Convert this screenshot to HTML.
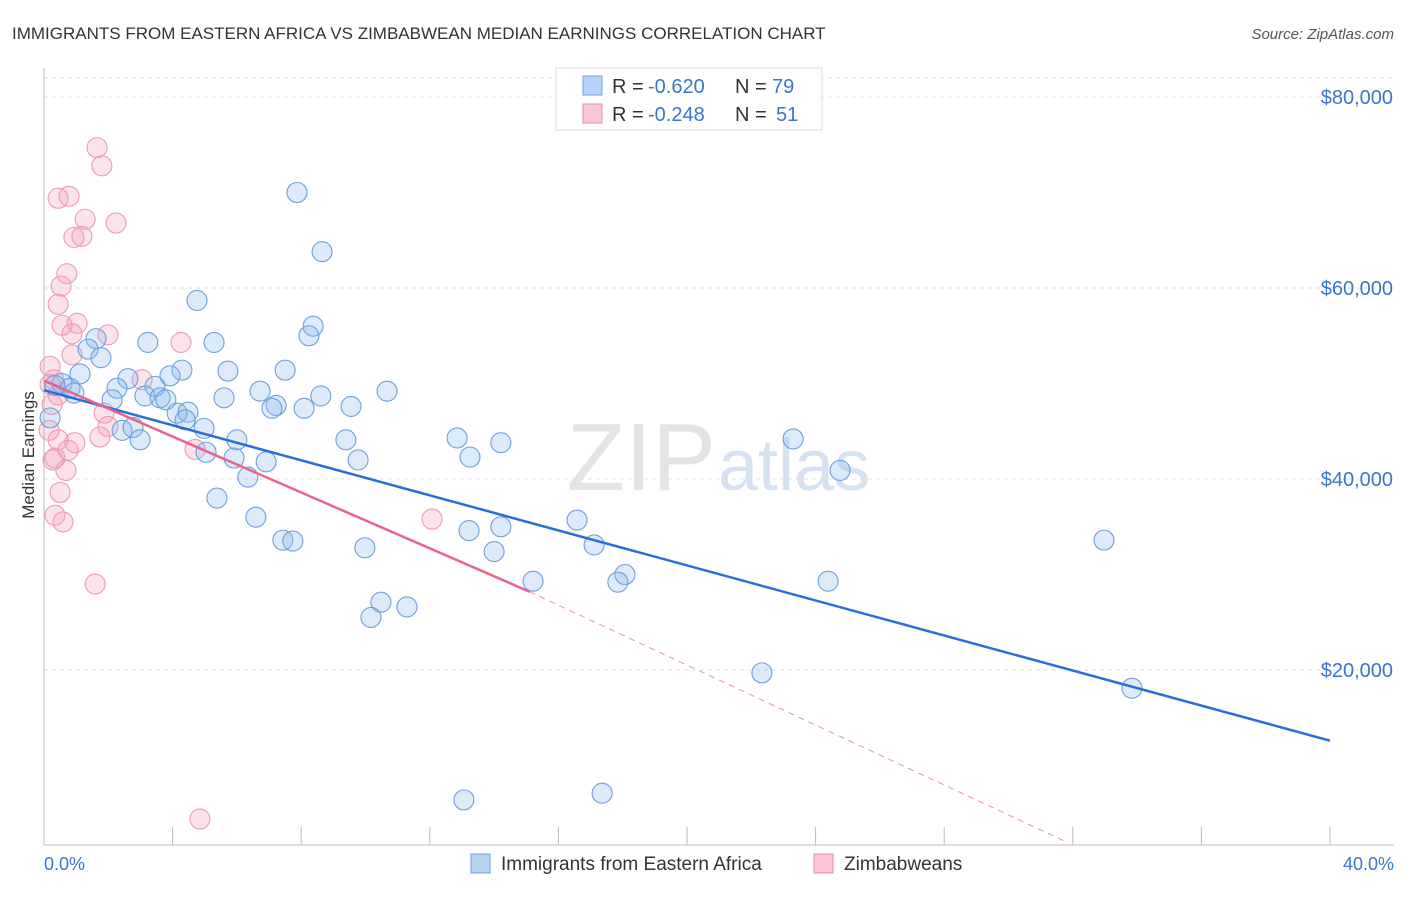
<!DOCTYPE html>
<html><head><meta charset="utf-8"><style>
body{margin:0;background:#fff;font-family:"Liberation Sans",sans-serif;}
svg text{font-family:"Liberation Sans",sans-serif;}
</style></head><body>
<svg id="chart" width="1406" height="892" viewBox="0 0 1406 892" xmlns="http://www.w3.org/2000/svg">
<text x="12" y="39" font-size="17" fill="#333">IMMIGRANTS FROM EASTERN AFRICA VS ZIMBABWEAN MEDIAN EARNINGS CORRELATION CHART</text>
<text x="1394" y="39" font-size="15" fill="#555" text-anchor="end" font-style="italic">Source: ZipAtlas.com</text>
<g id="grid"></g>
<text x="716" y="490" font-size="96" fill="#e4e4e4" text-anchor="end" font-family="Liberation Serif">ZIP</text>
<text x="718" y="490" font-size="72" fill="#d6e2f2">atlas</text>
<g id="points"></g>
<g id="lines"></g>
<text transform="translate(34,455) rotate(-90)" font-size="17" fill="#333" text-anchor="middle">Median Earnings</text>
<text x="44" y="870" font-size="18" fill="#3a75d0">0.0%</text>
<text x="1394" y="870" font-size="18" fill="#3a75d0" text-anchor="end">40.0%</text>
<g>
<rect x="556" y="68" width="266" height="62" fill="#fff" stroke="#ddd"/>
<rect x="583" y="76" width="19" height="19" fill="#b9d3f5" stroke="#6f9fe0"/>
<rect x="583" y="104" width="19" height="19" fill="#f9c6d6" stroke="#e98aaa"/>
<text x="612" y="93" font-size="20" fill="#333">R =</text>
<text x="648" y="93" font-size="20" fill="#3a75d0">-0.620</text>
<text x="735" y="93" font-size="20" fill="#333">N =</text>
<text x="772" y="93" font-size="20" fill="#3a75d0">79</text>
<text x="612" y="121" font-size="20" fill="#333">R =</text>
<text x="648" y="121" font-size="20" fill="#3a75d0">-0.248</text>
<text x="735" y="121" font-size="20" fill="#333">N =</text>
<text x="776" y="121" font-size="20" fill="#3a75d0">51</text>
</g>
<g>
<rect x="471" y="854" width="19" height="19" fill="#b9d3f5" stroke="#6f9fe0"/>
<text x="501" y="870" font-size="19" fill="#333">Immigrants from Eastern Africa</text>
<rect x="814" y="854" width="19" height="19" fill="#f9c6d6" stroke="#e98aaa"/>
<text x="844" y="870" font-size="19" fill="#333">Zimbabweans</text>
</g>
</svg>
<script>
const yTicks=[20000,40000,60000,80000];
const yTickLabels=["$20,000","$40,000","$60,000","$80,000"];
const xTicks=[0,4,8,12,16,20,24,28,32,36,40];
const blueX=[7.87,8.65,4.76,8.37,8.24,1.62,3.23,5.29,1.37,1.77,4.29,5.72,7.50,1.12,3.92,2.61,3.45,2.27,0.56,0.81,0.34,0.93,6.72,10.67,8.61,3.14,3.61,2.12,3.79,5.60,7.22,7.09,8.09,9.55,4.14,4.48,4.39,4.98,2.43,2.77,2.99,6.00,9.39,12.85,14.21,5.04,5.91,6.91,9.77,13.25,23.30,24.76,6.34,5.38,6.59,16.58,13.22,14.21,7.43,7.74,32.97,17.11,9.98,14.00,18.07,17.85,15.21,24.39,10.48,11.29,10.17,22.33,33.84,13.06,17.36,0.19];
const blueY=[70.0,63.8,58.7,56.0,55.0,54.7,54.3,54.3,53.6,52.7,51.4,51.3,51.4,51.0,50.8,50.5,49.7,49.5,50.0,49.5,49.8,49.0,49.2,49.2,48.7,48.7,48.5,48.3,48.3,48.5,47.7,47.4,47.4,47.6,46.9,47.0,46.2,45.3,45.1,45.4,44.1,44.1,44.1,44.3,43.8,42.8,42.2,41.8,42.0,42.3,44.2,40.9,40.2,38.0,36.0,35.7,34.6,35.0,33.6,33.5,33.6,33.1,32.8,32.4,30.0,29.2,29.3,29.3,27.1,26.6,25.5,19.7,18.1,6.4,7.1,46.4];
const pinkX=[1.65,1.80,0.78,0.44,1.28,2.24,0.93,1.18,0.71,0.53,0.44,1.03,0.56,0.87,1.99,4.26,0.87,0.19,0.31,0.19,3.05,0.44,0.25,1.87,1.99,1.74,0.96,0.44,0.75,0.34,0.28,4.70,0.68,0.50,0.34,0.59,12.07,1.59,4.85,0.16];
const pinkY=[74.7,72.8,69.6,69.4,67.2,66.8,65.3,65.4,61.5,60.2,58.3,56.3,56.1,55.2,55.1,54.3,53.0,51.8,50.4,49.9,50.4,48.8,47.8,46.9,45.5,44.4,43.8,44.1,43.0,42.2,42.0,43.1,40.9,38.6,36.2,35.5,35.8,29.0,4.4,45.1];
const blueTrend=[0,49.3,40,12.6];
const pinkTrend=[0,50.3,15.1,28.2,31.8,2.0];
const NS="http://www.w3.org/2000/svg";
const xs=v=>44+v*(1286/40);
const ys=v=>861-v*(191/20000);
const yk=v=>ys(v*1000);
function mk(t,a){const e=document.createElementNS(NS,t);for(const k in a)e.setAttribute(k,a[k]);return e;}
const grid=document.getElementById('grid');
yTicks.forEach((t,i)=>{
 const l=mk('line',{x1:44,x2:1394,y1:ys(t),y2:ys(t),stroke:'#e2e2e2','stroke-dasharray':'4,4'});
 
 
 grid.appendChild(l);
 const tx=mk('text',{x:1393,y:ys(t)+7,'font-size':20,fill:'#3a75d0','text-anchor':'end'});
 tx.textContent=yTickLabels[i];
 
 
 grid.appendChild(tx);
});
const topGrid=mk('line',{x1:44,x2:1394,y1:78,y2:78,stroke:'#e2e2e2','stroke-dasharray':'4,4'});


grid.appendChild(topGrid);
const ya=mk('line',{x1:44,x2:44,y1:68,y2:845,stroke:'#bbb'});


grid.appendChild(ya);
const xa=mk('line',{x1:44,x2:1394,y1:845,y2:845,stroke:'#bbb'});


grid.appendChild(xa);
xTicks.forEach(t=>{
 const l=mk('line',{x1:xs(t),x2:xs(t),y1:827,y2:845,stroke:'#bbb'});
 
 
 grid.appendChild(l);
});
const pts=document.getElementById('points');
pinkX.forEach((x,i)=>{
 const c=mk('circle',{cx:xs(x),cy:yk(pinkY[i]),r:10,fill:'rgba(244,160,188,0.3)',stroke:'#ee9ab6','stroke-width':1.1});
 
 
 pts.appendChild(c);
});
blueX.forEach((x,i)=>{
 const c=mk('circle',{cx:xs(x),cy:yk(blueY[i]),r:10,fill:'rgba(140,184,236,0.3)',stroke:'#6d9fdd','stroke-width':1.1});
 
 
 pts.appendChild(c);
});
const ln=document.getElementById('lines');
const bl=mk('line',{x1:xs(blueTrend[0]),y1:yk(blueTrend[1]),x2:xs(blueTrend[2]),y2:yk(blueTrend[3]),stroke:'#2a6fd6','stroke-width':2.5});


ln.appendChild(bl);
const pl=mk('line',{x1:xs(pinkTrend[0]),y1:yk(pinkTrend[1]),x2:xs(pinkTrend[2]),y2:yk(pinkTrend[3]),stroke:'#e8648e','stroke-width':2.5});


ln.appendChild(pl);
const pd=mk('line',{x1:xs(pinkTrend[2]),y1:yk(pinkTrend[3]),x2:xs(pinkTrend[4]),y2:yk(pinkTrend[5]),stroke:'#eb90ae','stroke-width':1,'stroke-dasharray':'6,5'});


ln.appendChild(pd);
</script>
</body></html>
